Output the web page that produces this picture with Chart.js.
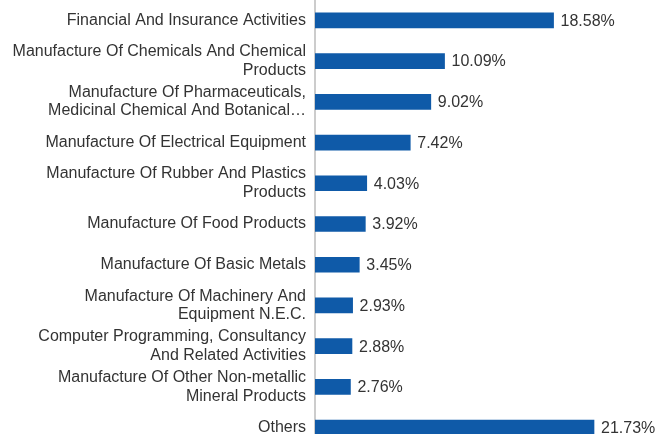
<!DOCTYPE html>
<html>
<head>
<meta charset="utf-8">
<script src="https://cdn.jsdelivr.net/npm/chart.js@4"></script>
<style>
  html, body { margin: 0; padding: 0; background: #fff; overflow: hidden; }
  #wrap { position: absolute; left: 0; top: 0; width: 657px; height: 448px; }
</style>
</head>
<body>
<div id="wrap"><canvas id="chart"></canvas></div>
<script>
// ====================== DATA ======================
const sectors = [
  ['Financial And Insurance Activities'],
  ['Manufacture Of Chemicals And Chemical', 'Products'],
  ['Manufacture Of Pharmaceuticals,', 'Medicinal Chemical And Botanical\u2026'],
  ['Manufacture Of Electrical Equipment'],
  ['Manufacture Of Rubber And Plastics', 'Products'],
  ['Manufacture Of Food Products'],
  ['Manufacture Of Basic Metals'],
  ['Manufacture Of Machinery And', 'Equipment N.E.C.'],
  ['Computer Programming, Consultancy', 'And Related Activities'],
  ['Manufacture Of Other Non-metallic', 'Mineral Products'],
  ['Others']
];
const weights = [18.58, 10.09, 9.02, 7.42, 4.03, 3.92, 3.45, 2.93, 2.88, 2.76, 21.73];

const FONT = 'Liberation Sans, Arial, Helvetica, sans-serif';

// percentage text after each bar
const valueLabels = {
  id: 'valueLabels',
  afterDatasetsDraw(chart) {
    const ctx = chart.ctx;
    const meta = chart.getDatasetMeta(0);
    ctx.save();
    ctx.font = '16px ' + FONT;
    ctx.fillStyle = '#333333';
    ctx.textAlign = 'left';
    ctx.textBaseline = 'middle';
    meta.data.forEach((bar, i) => {
      ctx.fillText(weights[i].toFixed(2) + '%', bar.x + 7, bar.y + 1);
    });
    ctx.restore();
  }
};

new Chart(document.getElementById('chart'), {
  type: 'bar',
  data: {
    labels: sectors,
    datasets: [{
      data: weights,
      backgroundColor: '#0f5aa8',
      barThickness: 15
    }]
  },
  plugins: [valueLabels],
  options: {
    indexAxis: 'y',
    responsive: true,
    maintainAspectRatio: false,
    animation: false,
    layout: { padding: { left: 0, right: 21, top: 0, bottom: 0 } },
    plugins: { legend: { display: false }, tooltip: { enabled: false } },
    scales: {
      x: { display: false, min: 0, max: 25 },
      y: {
        grid: { display: false, drawTicks: false },
        border: { display: true, color: '#cccccc', width: 2 },
        ticks: {
          padding: 9,
          color: '#333333',
          font: { family: FONT, size: 16, lineHeight: 1.15 }
        },
        afterFit(scale) {
          // fixed label column, no extra room above/below the rows
          scale.width = 315;
          scale.paddingTop = 0;
          scale.paddingBottom = 0;
        }
      }
    }
  }
});
</script>
</body>
</html>
